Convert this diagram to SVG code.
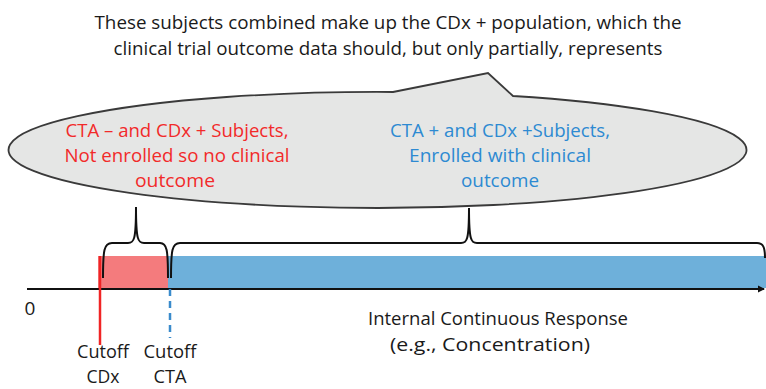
<svg xmlns="http://www.w3.org/2000/svg" width="766" height="389" viewBox="0 0 766 389">
<defs>
<style>
text{font-family:"Open Sans","Liberation Sans",sans-serif;font-size:19px;text-anchor:middle}
.k{fill:#1a1a1a}
.r{fill:#f22a2a}
.b{fill:#2d8ad2}
.s{font-size:18px}
.brace{fill:none;stroke:#111;stroke-width:2}
</style>
<marker id="ah" markerWidth="8" markerHeight="8" refX="6" refY="4" orient="auto" markerUnits="userSpaceOnUse">
<path d="M0,0.5 L7,4 L0,7.5 Z" fill="#111"/>
</marker>
</defs>
<rect width="766" height="389" fill="#fff"/>
<g id="title">
<text class="k" x="388" y="29" textLength="587" lengthAdjust="spacingAndGlyphs">These subjects combined make up the CDx + population, which the</text>
<text class="k" x="388" y="55" textLength="549" lengthAdjust="spacingAndGlyphs">clinical trial outcome data should, but only partially, represents</text>
</g>
<g id="callout">
<path d="M393,92 L488,73 L513,96 A369,58 0 1 1 393,92 Z" fill="#e5e6e5" stroke="#3a3a3a" stroke-width="1.8"/>
<text class="r" x="177" y="137" textLength="223" lengthAdjust="spacingAndGlyphs">CTA – and CDx + Subjects,</text>
<text class="r" x="177" y="162" textLength="225" lengthAdjust="spacingAndGlyphs">Not enrolled so no clinical</text>
<text class="r" x="175" y="187" textLength="80" lengthAdjust="spacingAndGlyphs">outcome</text>
<text class="b" x="500" y="137" textLength="220" lengthAdjust="spacingAndGlyphs">CTA + and CDx +Subjects,</text>
<text class="b" x="500" y="162" textLength="182" lengthAdjust="spacingAndGlyphs">Enrolled with clinical</text>
<text class="b" x="500" y="187" textLength="78" lengthAdjust="spacingAndGlyphs">outcome</text>
</g>
<g id="bars">
<rect x="98" y="256" width="70" height="32" fill="#f47b7d"/>
<rect x="168" y="256" width="598" height="32" fill="#6eb0da"/>
</g>
<g id="connectors">
<line x1="27" y1="289" x2="764" y2="289" stroke="#111" stroke-width="2" marker-end="url(#ah)"/>
<line x1="100" y1="256" x2="100" y2="345" stroke="#f02424" stroke-width="2.5"/>
<line x1="170" y1="289" x2="170" y2="338" stroke="#3a8bcc" stroke-width="2.5" stroke-dasharray="7,5"/>
<path class="brace" d="M103,278 C103,250 104,243 112,243 L128,243 C134,243 136,240 136,207 C136,240 138,243 144,243 L160,243 C167,243 168,250 168,278"/>
<path class="brace" d="M171,278 C171,250 172,243 180,243 L461,243 C467,243 469,240 469,208 C469,240 471,243 477,243 L757,243 C763,243 765,247 765,258"/>
</g>
<g id="labels">
<text class="k" x="30" y="315">0</text>
<text class="k s" x="103" y="358" textLength="52" lengthAdjust="spacingAndGlyphs">Cutoff</text>
<text class="k s" x="103" y="383" textLength="33" lengthAdjust="spacingAndGlyphs">CDx</text>
<text class="k s" x="170" y="358" textLength="53" lengthAdjust="spacingAndGlyphs">Cutoff</text>
<text class="k s" x="170" y="383" textLength="33" lengthAdjust="spacingAndGlyphs">CTA</text>
<text class="k" x="498" y="325" textLength="260" lengthAdjust="spacingAndGlyphs">Internal Continuous Response</text>
<text class="k" x="490" y="351" textLength="200" lengthAdjust="spacingAndGlyphs">(e.g., Concentration)</text>
</g>
</svg>
